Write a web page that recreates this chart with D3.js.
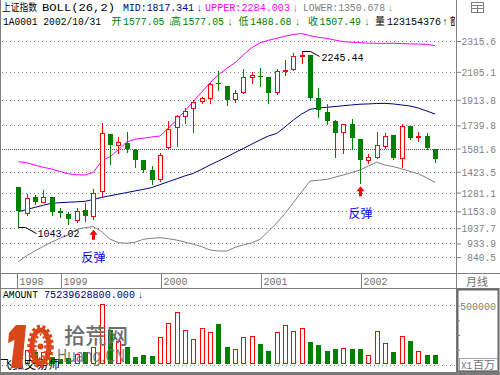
<!DOCTYPE html>
<html>
<head>
<meta charset="utf-8">
<script src="https://cdn.jsdelivr.net/npm/d3@7"></script>
<style>
body { margin: 0; background: #fff; }
svg { display: block; font-family: "Liberation Mono", "DejaVu Sans Mono", monospace; font-size: 11px; }
.cjk { font-family: "Noto Sans CJK SC", sans-serif; font-size: 10px; }
</style>
</head>
<body>
<div id="chart"></div>
<script>
// monthly bars, 1998-08 .. 2002-10
var months = ['1998-08','1998-09','1998-10','1998-11','1998-12',
  '1999-01','1999-02','1999-03','1999-04','1999-05','1999-06','1999-07','1999-08','1999-09','1999-10','1999-11','1999-12',
  '2000-01','2000-02','2000-03','2000-04','2000-05','2000-06','2000-07','2000-08','2000-09','2000-10','2000-11','2000-12',
  '2001-01','2001-02','2001-03','2001-04','2001-05','2001-06','2001-07','2001-08','2001-09','2001-10','2001-11','2001-12',
  '2002-01','2002-02','2002-03','2002-04','2002-05','2002-06','2002-07','2002-08','2002-09','2002-10'];

var opens  = [1321,1143,1249,1219,1251,1157,1132,1094,1162,1123,1290,1679,1608,1621,1572,1503,1435,
  1376,1594,1726,1806,1856,1904,1924,2026,2008,1918,1965,2072,
  2077,2068,1965,2112,2122,2214,2220,1924,1829,1772,1696,1747,
  1647,1503,1526,1601,1672,1519,1735,1657,1669,1577.05];
var highs  = [1321,1271,1266,1298,1251,1178,1150,1173,1212,1305,1754,1680,1658,1692,1575,1505,1462,
  1549,1769,1810,1856,1913,1935,2027,2113,2010,1981,2122,2106,
  2133,2070,2122,2186,2232,2245.44,2221,1993,1886,1776,1747,1781,
  1648,1544,1692,1686,1673,1749,1736,1692,1686,1577.05];
var lows   = [1043.02,1128,1201,1215,1128,1112,1066,1082,1087,1100,1260,1476,1553,1560,1457,1423,1339,
  1362,1587,1601,1754,1696,1890,1894,1981,1879,1901,1959,2027,
  2010,1894,1954,2084,2120,2163,1913,1799,1749,1522,1553,1587,
  1344,1481,1520,1583,1510,1457,1650,1635,1580,1488.68];
var closes = [1155,1242,1219,1249,1150,1143,1098,1157,1121,1280,1686,1606,1626,1576,1503,1435,1367,
  1537,1713,1804,1840,1901,1924,2022,2021,1913,1959,2068,2084,
  2072,1963,2111,2119,2213,2218,1924,1845,1772,1690,1747,1651,
  1503,1526,1604,1667,1519,1735,1655,1667,1587,1507.49];

// BOLL(26,2) as drawn
var upper = [1492,1484,1469,1453,1442,1425,1409,1403,1401,1418,1496,1526,1572,1626,1645,1652,1660,
  1667,1720,1776,1839,1903,1966,2031,2084,2128,2167,2221,2269,
  2303,2320,2334,2348,2360,2367,2352,2341,2334,2322,2311,2307,
  2304,2301,2300,2300,2300,2298,2296,2295,2292,2284.003];
var mid = [1150,1165,1180,1195,1208,1212,1215,1218,1221,1234,1248,1259,1270,1281,1292,1303,1315,
  1335,1355,1375,1395,1412,1440,1469,1496,1524,1554,1582,1611,
  1640,1667,1684,1729,1776,1817,1849,1858,1863,1868,1874,1879,
  1884,1886,1889,1890,1886,1879,1872,1858,1838,1817.341];
var lower = [809,850,883,914,943,969,993,1029,1042,1048,1015,963,940,935,942,962,969,
  973,966,957,943,928,912,889,882,882,907,923,938,
  962,1016,1073,1137,1213,1285,1360,1365,1371,1386,1401,1418,
  1435,1462,1488,1469,1458,1443,1426,1409,1382,1350.678];

// AMOUNT, millions
var amount = [122000,122000,105000,102000,60000,43000,54000,88000,107500,145000,514500,292600,198800,145000,59700,79300,70800,
  230400,349800,443700,290100,213300,307200,275600,343800,147600,128000,235500,241500,
  173200,113500,273000,335300,284100,307200,190300,164700,113500,130500,136500,130500,
  130500,76800,281600,179200,104900,238900,198800,113500,79300,75239.6288];

var priceTicks = [2315.6, 2105.1, 1913.8, 1739.8, 1581.6, 1423.5, 1281.1, 1153.0, 1037.7, 933.9, 840.5];
var amountTicks = [125000, 250000, 375000, 500000];
var lastVolume = 123154376;
var rebound = ['1999-05', '2002-01'];

var red = '#ff0000', green = '#008000', grid = '#808080', orange = '#d9461a';
var n = months.length;

var svg = d3.select('#chart').append('svg')
  .attr('width', 500)
  .attr('height', 375);

var x = d3.scaleLinear().domain([0, n - 1]).range([18.3, 435]);
var y = d3.scaleLinear().domain([840.5, 2315.6]).range([257.1, 41]);
var yv = d3.scaleLinear().domain([0, 500000]).range([364.3, 305.7]);

function put(g, px, py, s, color, len, cls) {
  var t = g.append('text').attr('x', px).attr('y', py).attr('fill', color).text(s);
  if (len) t.attr('textLength', len).attr('lengthAdjust', 'spacingAndGlyphs');
  if (cls) t.attr('class', cls);
  return t;
}

// frame
var frame = svg.append('g').attr('stroke', grid).attr('fill', 'none');
frame.append('line').attr('x1', 0.5).attr('x2', 0.5).attr('y1', 0).attr('y2', 372);
frame.append('line').attr('x1', 456.5).attr('x2', 456.5).attr('y1', 0).attr('y2', 372);
frame.append('line').attr('x1', 0).attr('x2', 500).attr('y1', 273.5).attr('y2', 273.5);
frame.append('line').attr('x1', 0).attr('x2', 500).attr('y1', 288.5).attr('y2', 288.5);
frame.append('rect').attr('x', 457.5).attr('y', 289.5).attr('width', 41).attr('height', 82)
  .attr('stroke', '#6a6a6a').attr('stroke-width', 2);
frame.append('rect').attr('x', 0).attr('y', 372).attr('width', 500).attr('height', 3)
  .attr('fill', '#7a7a7a').attr('stroke', 'none');
// little window icon top right
frame.append('rect').attr('x', 471.5).attr('y', 2.5).attr('width', 12).attr('height', 10);
frame.append('line').attr('x1', 471.5).attr('x2', 483.5).attr('y1', 5.5).attr('y2', 5.5);
frame.append('line').attr('x1', 471.5).attr('x2', 483.5).attr('y1', 8.5).attr('y2', 8.5);
frame.append('line').attr('x1', 477.5).attr('x2', 477.5).attr('y1', 5.5).attr('y2', 12.5);

// price grid
var gridG = svg.append('g');
gridG.selectAll('line').data(priceTicks).enter().append('line')
  .attr('x1', 2).attr('x2', 455)
  .attr('y1', function(d) { return Math.round(y(d)) + 0.5; })
  .attr('y2', function(d) { return Math.round(y(d)) + 0.5; })
  .attr('stroke', function(d) { return d === 1581.6 ? '#505050' : grid; })
  .attr('stroke-dasharray', function(d) { return d === 1581.6 ? '1,1' : '1,3'; });

// right price axis
var axisG = svg.append('g').attr('transform', 'translate(457,0)')
  .call(d3.axisRight(y).tickValues(priceTicks).tickSize(4).tickFormat(d3.format('.1f')));
axisG.select('.domain').remove();
axisG.selectAll('.tick line').attr('stroke', grid);
axisG.selectAll('.tick text')
  .attr('x', 39).attr('text-anchor', 'end').attr('fill', grid)
  .attr('font-family', '"Liberation Mono", monospace').attr('font-size', 11)
  .attr('textLength', function(d) { return d3.format('.1f')(d).length * 5.75; })
  .attr('lengthAdjust', 'spacingAndGlyphs');

// bands
var line = d3.line().x(function(d, i) { return x(i); }).y(function(d) { return y(d); });
svg.append('path').datum(upper).attr('d', line).attr('fill', 'none').attr('stroke', '#ff00ff');
svg.append('path').datum(mid).attr('d', line).attr('fill', 'none').attr('stroke', '#000080');
svg.append('path').datum(lower).attr('d', line).attr('fill', 'none').attr('stroke', '#808080');

// candles
var candles = svg.append('g').selectAll('g').data(months).enter().append('g');
candles.each(function(m, i) {
  var g = d3.select(this);
  var cx = Math.round(x(i));
  var up = closes[i] >= opens[i];
  var col = up ? red : green;
  var top = Math.round(y(Math.max(opens[i], closes[i])));
  var bot = Math.round(y(Math.min(opens[i], closes[i])));
  var hi = Math.round(y(highs[i])), lo = Math.round(y(lows[i]));
  g.append('line').attr('x1', cx + 0.5).attr('x2', cx + 0.5).attr('y1', hi).attr('y2', top)
    .attr('stroke', col);
  g.append('line').attr('x1', cx + 0.5).attr('x2', cx + 0.5).attr('y1', bot).attr('y2', lo + 1)
    .attr('stroke', col);
  if (up) {
    g.append('rect').attr('x', cx - 1.5).attr('y', top + 0.5)
      .attr('width', 4).attr('height', Math.max(bot - top, 1))
      .attr('fill', '#fff').attr('stroke', red);
  } else {
    g.append('rect').attr('x', cx - 2).attr('y', top)
      .attr('width', 5).attr('height', Math.max(bot - top, 1))
      .attr('fill', green);
  }
});

// extreme labels
var iLow = d3.minIndex(lows), iHigh = d3.maxIndex(highs);
var ann = svg.append('g').attr('fill', 'none').attr('stroke', '#000');
var lx = Math.round(x(iLow)) + 0.5, ly = Math.round(y(lows[iLow])) + 0.5;
ann.append('path').attr('d', 'M' + lx + ' ' + ly + 'H' + (lx + 7) + 'L' + (lx + 18) + ' ' + (ly + 6));
put(svg, lx + 19, ly + 9, d3.format('.2f')(lows[iLow]), '#000', 42);
var hx = Math.round(x(iHigh)) + 0.5, hy = Math.round(y(highs[iHigh])) + 0.5;
ann.append('path').attr('d', 'M' + hx + ' ' + hy + 'H' + (hx + 8) + 'L' + (hx + 17) + ' ' + (hy + 5));
put(svg, hx + 19, hy + 9, d3.format('.2f')(highs[iHigh]), '#000', 42);

// rebound marks
rebound.forEach(function(m) {
  var i = months.indexOf(m);
  var ax = Math.round(x(i)) + 0.5;
  var at = Math.max(y(lows[i]), y(lower[i])) + 3;
  svg.append('path')
    .attr('d', 'M' + ax + ' ' + at + 'L' + (ax + 4) + ' ' + (at + 5) + 'H' + (ax + 1.5) + 'V' + (at + 10) +
      'H' + (ax - 1.5) + 'V' + (at + 5) + 'H' + (ax - 4) + 'Z')
    .attr('fill', red);
  put(svg, ax, at + 32, '反弹', '#0000ff', null, 'cjk')
    .attr('text-anchor', 'middle').style('font-size', '12px');
});

// time strip
var yearIdx = months.map(function(m, i) { return i; })
  .filter(function(i) { return i === 0 || months[i].slice(5) === '01'; });
var strip = svg.append('g');
yearIdx.forEach(function(i) {
  var sx = i === 0 ? 17.5 : Math.round(x(i)) + 1.5;
  strip.append('line').attr('x1', sx).attr('x2', sx).attr('y1', 274).attr('y2', 288).attr('stroke', grid);
  put(strip, sx + 2, 285, months[i].slice(0, 4), '#707070', 24);
});
put(strip, 466, 286, '月线', '#707070', 22, 'cjk').style('font-size', '11px');

// header
var fmt3 = d3.format('.3f'), fmt2 = d3.format('.2f');
var last = n - 1;
put(svg, 2, 11, '上证指数', '#000', 35, 'cjk');
put(svg, 42, 11, 'BOLL(26,2)', '#000', 73);
put(svg, 123, 11, 'MID:' + fmt3(mid[last]), '#000080', 71);
put(svg, 197, 11, '↓', '#000080', 5);
put(svg, 205, 11, 'UPPER:' + fmt3(upper[last]), '#ff00ff', 85);
put(svg, 293, 11, '↓', '#ff00ff', 5);
put(svg, 303, 11, 'LOWER:' + fmt3(lower[last]), '#808080', 82);
put(svg, 388, 11, '↓', '#808080', 5);

var head2 = svg.append('g');
put(head2, 3, 25, '1A0001 ' + months[last].replace('-', '/') + '/31', '#000', 98);
var quote = [['开', opens[last], 111.5], ['高', highs[last], 171], ['低', lows[last], 238.5], ['收', closes[last], 308]];
quote.forEach(function(q) {
  put(head2, q[2], 25, q[0], green, 10, 'cjk');
  put(head2, q[2] + 11.5, 25, fmt2(q[1]), green, 41.5);
  put(head2, q[2] + 56.5, 25, '↓', green, 5);
});
put(head2, 375, 25, '量', '#000', 10, 'cjk');
put(head2, 387, 25, String(lastVolume), '#000', 54);
put(head2, 442.5, 25, '↑', '#000', 5);
svg.append('clipPath').attr('id', 'hc').append('rect').attr('x', 0).attr('y', 0).attr('width', 455).attr('height', 30);
put(svg, 450, 25, '额', '#000', 10, 'cjk').attr('clip-path', 'url(#hc)');

// amount panel
var volG = svg.append('g');
[0, 500000].forEach(function(v) {
  var yy = Math.floor(yv(v)) + 0.5 + (v === 0 ? 1 : 0);
  volG.append('line').attr('x1', 2).attr('x2', 455).attr('y1', yy).attr('y2', yy)
    .attr('stroke', grid).attr('stroke-dasharray', '1,3');
});
volG.selectAll('rect').data(amount).enter().append('rect')
  .each(function(a, i) {
    var r = d3.select(this);
    var cx = Math.round(x(i));
    var top = Math.round(yv(a));
    var base = Math.round(yv(0));
    if (closes[i] >= opens[i]) {
      r.attr('x', cx - 1.5).attr('y', top + 0.5).attr('width', 4).attr('height', base - top - 1)
        .attr('fill', '#fff').attr('stroke', red);
    } else {
      r.attr('x', cx - 2).attr('y', top).attr('width', 5).attr('height', base - top)
        .attr('fill', green);
    }
  });

var vAxis = svg.append('g').attr('transform', 'translate(457,0)')
  .call(d3.axisRight(yv).tickValues(amountTicks).tickSize(3)
    .tickFormat(function(d) { return d === 500000 ? d : ''; }));
vAxis.select('.domain').remove();
vAxis.selectAll('.tick line').attr('stroke', grid);
vAxis.selectAll('.tick text').attr('x', 39).attr('text-anchor', 'end').attr('fill', grid)
  .attr('font-family', '"Liberation Mono", monospace').attr('font-size', 11)
  .attr('textLength', 36).attr('lengthAdjust', 'spacingAndGlyphs');

svg.append('rect').attr('x', 459.5).attr('y', 358.5).attr('width', 38).attr('height', 12)
  .attr('fill', 'none').attr('stroke', '#a0a0a0');
put(svg, 461, 369, 'X1', '#707070', 11);
put(svg, 473, 369, '百万', '#707070', 22, 'cjk').style('font-size', '11px');

put(svg, 3, 298, 'AMOUNT', '#000', 35);
put(svg, 44, 298, fmt3(amount[last] * 1e6), '#000080', 91);
put(svg, 138, 298, '↓', '#000080', 5);

put(svg, 0, 369, '飞狐交易师', '#000', 60, 'cjk').style('font-size', '12px');

// site watermark
var wm = svg.append('g');
wm.append('path').attr('d', 'M16 325H26L22 368H11L14.5 340L8 343L9 333Z').attr('fill', orange);
wm.append('ellipse').attr('cx', 40.5).attr('cy', 346.5).attr('rx', 11.5).attr('ry', 20)
  .attr('fill', 'none').attr('stroke', orange).attr('stroke-width', 3.5).attr('stroke-dasharray', '3,2.5');
wm.append('ellipse').attr('cx', 40.5).attr('cy', 346.5).attr('rx', 8.5).attr('ry', 16.5)
  .attr('fill', 'none').attr('stroke', orange).attr('stroke-width', 5);
wm.append('ellipse').attr('cx', 40.5).attr('cy', 346.5).attr('rx', 5).attr('ry', 12)
  .attr('fill', 'none').attr('stroke', orange).attr('stroke-width', 2.5).attr('stroke-dasharray', '2,2.5');
wm.append('circle').attr('cx', 40.5).attr('cy', 346.5).attr('r', 3).attr('fill', orange);
put(wm, 64, 343, '拾荒网', '#6e6e6e', 64, 'cjk').style('font-size', '21px').style('font-weight', 500);
put(wm, 57, 362, 'Huang.CN', '#6e6e6e', 68)
  .attr('font-family', '"DejaVu Sans", sans-serif').attr('font-size', 17).attr('opacity', 0.9);
</script>
</body>
</html>
